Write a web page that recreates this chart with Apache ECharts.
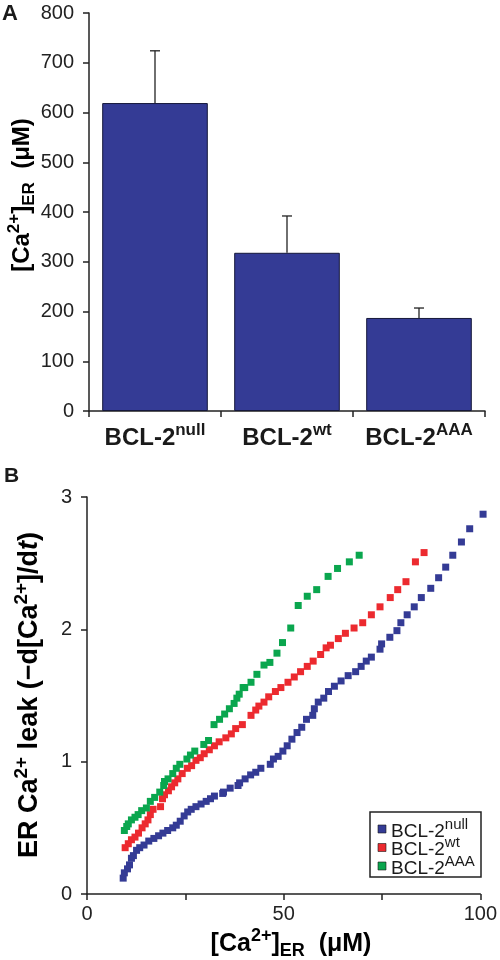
<!DOCTYPE html>
<html>
<head>
<meta charset="utf-8">
<script src="https://cdn.jsdelivr.net/npm/echarts@6/dist/echarts.min.js"></script>
<style>
html,body{margin:0;padding:0;background:#fff;}
#chart{width:500px;height:960px;}
</style>
</head>
<body>
<div id="chart"></div>
<script>
// ---- Panel A data ----
const categories = ['null', 'wt', 'AAA'];
const barValues = [619, 318, 187];
const barErrors = [105, 74, 20];

// ---- Panel B data ([Ca2+]ER µM, leak) ----
const bcl2Null = [
  [9.2,0.12],[9.5,0.16],[10.3,0.19],[10.8,0.22],[11.3,0.27],[11.8,0.29],[12.6,0.33],[13.4,0.35],
  [14.5,0.37],[15.7,0.40],[17.0,0.42],[18.2,0.44],[19.3,0.46],[20.5,0.48],[21.8,0.50],[22.7,0.52],
  [23.7,0.55],[24.7,0.59],[25.6,0.62],[26.5,0.64],[27.7,0.66],[29.0,0.68],[30.3,0.70],[31.4,0.72],
  [32.4,0.74],[34.5,0.76],[34.7,0.77],[36.4,0.80],[38.4,0.82],[38.8,0.84],[40.2,0.87],[41.6,0.90],
  [42.9,0.92],[44.2,0.95],[46.6,0.98],[47.4,1.02],[48.6,1.04],[49.8,1.08],[50.9,1.12],[52.1,1.17],
  [53.4,1.22],[54.6,1.26],[55.8,1.32],[57.4,1.35],[57.8,1.40],[58.8,1.45],[60.2,1.48],[61.4,1.53],
  [62.9,1.57],[64.6,1.61],[66.4,1.65],[68.3,1.68],[69.7,1.72],[71.0,1.76],[72.3,1.79],[74.5,1.85],
  [74.9,1.89],[77.0,1.94],[78.8,1.99],[79.8,2.05],[81.4,2.11],[83.2,2.17],[85.0,2.24],[87.4,2.31],
  [89.4,2.39],[91.2,2.47],[93.0,2.56],[95.2,2.66],[97.3,2.76],[100.7,2.87]
];
const bcl2Wt = [
  [9.7,0.35],[10.5,0.38],[11.3,0.41],[12.2,0.43],[13.1,0.46],[14.0,0.50],[14.8,0.53],[15.5,0.56],
  [16.1,0.60],[16.8,0.64],[18.7,0.66],[19.2,0.72],[19.7,0.75],[20.7,0.78],[21.5,0.81],[22.3,0.84],
  [23.1,0.87],[24.2,0.91],[25.5,0.95],[26.6,0.97],[27.7,1.01],[28.8,1.03],[29.8,1.06],[31.1,1.09],
  [32.4,1.12],[33.6,1.15],[35.3,1.18],[36.7,1.21],[37.8,1.25],[39.5,1.28],[41.7,1.35],[42.9,1.39],
  [43.7,1.42],[45.0,1.45],[46.2,1.49],[47.9,1.53],[49.3,1.56],[51.1,1.60],[52.7,1.64],[54.3,1.68],
  [56.0,1.72],[57.5,1.76],[59.4,1.81],[60.8,1.86],[61.9,1.88],[63.9,1.93],[65.7,1.97],[67.9,2.01],
  [70.1,2.05],[72.3,2.11],[74.5,2.17],[77.1,2.24],[79.0,2.30],[81.1,2.36],[83.5,2.51],[85.7,2.58]
];
const bcl2AAA = [
  [9.5,0.48],[10.1,0.51],[10.5,0.53],[11.3,0.56],[12.2,0.58],[13.0,0.60],[13.9,0.63],[15.1,0.65],
  [16.1,0.70],[17.2,0.73],[18.5,0.77],[19.5,0.82],[19.7,0.85],[20.6,0.87],[21.8,0.91],[22.7,0.95],
  [23.6,0.98],[25.4,1.02],[26.3,1.05],[27.4,1.08],[29.7,1.13],[30.9,1.16],[32.3,1.28],[33.7,1.32],
  [35.0,1.36],[36.2,1.40],[37.4,1.44],[38.1,1.48],[38.7,1.51],[39.7,1.56],[40.1,1.56],[41.7,1.60],
  [43.2,1.66],[45.0,1.73],[46.5,1.75],[48.3,1.82],[49.7,1.90],[51.8,2.01],[53.7,2.18],[56.0,2.25],
  [58.4,2.30],[61.3,2.40],[63.7,2.46],[66.7,2.51],[69.2,2.56]
];
const seriesNames = ['null', 'wt', 'AAA'];

const FONT = '"Liberation Sans", Arial, Helvetica, sans-serif';
const BLUE = '#343b95';
const RED = '#ec2a2f';
const GREEN = '#0aa64e';
const seriesColors = [BLUE, RED, GREEN];
const AXIS = '#222';
const TXT = '#1a1a1a';

const catRich = {
  b: { fontFamily: FONT, fontWeight: 'bold', fontSize: 24, color: TXT, lineHeight: 28, verticalAlign: 'bottom' },
  sup: { fontFamily: FONT, fontWeight: 'bold', fontSize: 17, color: TXT, lineHeight: 17, verticalAlign: 'top' }
};
function titleRich(size) {
  const s = Math.round(size * 0.7);
  return {
    b: { fontFamily: FONT, fontWeight: 'bold', fontSize: size, color: TXT, lineHeight: size + 8, verticalAlign: 'middle' },
    sup: { fontFamily: FONT, fontWeight: 'bold', fontSize: s, color: TXT, lineHeight: s, verticalAlign: 'top' },
    sub: { fontFamily: FONT, fontWeight: 'bold', fontSize: s, color: TXT, lineHeight: s, verticalAlign: 'bottom' },
    it: { fontFamily: FONT, fontWeight: 'bold', fontStyle: 'italic', fontSize: size, color: TXT, lineHeight: size + 8, verticalAlign: 'middle' }
  };
}
const legRich = {
  b: { fontFamily: FONT, fontSize: 19, fill: TXT, lineHeight: 24, verticalAlign: 'bottom' },
  sup: { fontFamily: FONT, fontSize: 15, fill: TXT, lineHeight: 8, verticalAlign: 'top' }
};

// legend box built as graphic (so that superscripts render correctly)
const legX = 370, legY = 812, legW = 111, legH = 65, legRow = 18.5;
const legendChildren = [
  { type: 'rect', shape: { x: legX, y: legY, width: legW, height: legH }, style: { fill: '#fff', stroke: '#222', lineWidth: 1.5 }, z: 10 }
];
seriesNames.forEach((n, i) => {
  const cy = legY + 17 + legRow * i;
  legendChildren.push({ type: 'rect', shape: { x: legX + 8, y: cy - 4, width: 8, height: 8 }, style: { fill: seriesColors[i], stroke: '#1a1a1a', lineWidth: 0.6 }, z: 11 });
  legendChildren.push({ type: 'text', x: legX + 21, y: cy, z: 11, style: { text: '{b|BCL-2}{sup|' + n + '}', rich: legRich, align: 'left', verticalAlign: 'middle' } });
});

const chart = echarts.init(document.getElementById('chart'), null, { renderer: 'canvas' });

const option = {
  backgroundColor: '#fff',
  animation: false,
  grid: [
    { left: 89, right: 15, top: 13, height: 398 },
    { left: 87, right: 17, top: 497, height: 397 }
  ],
  xAxis: [
    {
      gridIndex: 0, type: 'category', data: categories,
      axisLine: { lineStyle: { color: AXIS, width: 1.5 } },
      axisTick: { show: true, length: 6, lineStyle: { color: AXIS, width: 1.5 } },
      axisLabel: {
        interval: 0, margin: 11,
        formatter: v => '{b|BCL-2}{sup|' + v + '}',
        rich: catRich
      }
    },
    {
      gridIndex: 1, type: 'value', min: 0, max: 100, interval: 25,
      splitLine: { show: false },
      axisLine: { lineStyle: { color: AXIS, width: 1.5 } },
      axisTick: { length: 6, lineStyle: { color: AXIS, width: 1.5 } },
      axisLabel: {
        margin: 10, fontFamily: FONT, fontSize: 20, color: '#222',
        formatter: v => (v % 50 === 0 ? String(v) : '')
      }
    }
  ],
  yAxis: [
    {
      gridIndex: 0, type: 'value', min: 0, max: 800, interval: 100,
      splitLine: { show: false },
      axisLine: { show: true, lineStyle: { color: AXIS, width: 1.5 } },
      axisTick: { show: true, length: 6, lineStyle: { color: AXIS, width: 1.5 } },
      axisLabel: { margin: 15, fontFamily: FONT, fontSize: 20, color: '#222' }
    },
    {
      gridIndex: 1, type: 'value', min: 0, max: 3, interval: 1,
      splitLine: { show: false },
      axisLine: { show: true, lineStyle: { color: AXIS, width: 1.5 } },
      axisTick: { show: true, length: 6, lineStyle: { color: AXIS, width: 1.5 } },
      axisLabel: { margin: 15, fontFamily: FONT, fontSize: 20, color: '#222' }
    }
  ],
  series: [
    {
      type: 'bar', xAxisIndex: 0, yAxisIndex: 0,
      data: barValues, barWidth: '80%',
      itemStyle: { color: BLUE, borderColor: '#15183a', borderWidth: 1 },
      z: 2
    },
    {
      type: 'custom', xAxisIndex: 0, yAxisIndex: 0,
      data: barValues.map((v, i) => [i, v, barErrors[i]]),
      renderItem: function (params, api) {
        const i = api.value(0), v = api.value(1), e = api.value(2);
        const p0 = api.coord([i, v]);
        const p1 = api.coord([i, v + e]);
        const hw = 5;
        return {
          type: 'group',
          children: [
            { type: 'line', shape: { x1: p0[0], y1: p0[1], x2: p1[0], y2: p1[1] }, style: { stroke: AXIS, lineWidth: 1.3 } },
            { type: 'line', shape: { x1: p1[0] - hw, y1: p1[1], x2: p1[0] + hw, y2: p1[1] }, style: { stroke: AXIS, lineWidth: 1.3 } }
          ]
        };
      },
      z: 3
    },
    {
      name: seriesNames[0], type: 'scatter', xAxisIndex: 1, yAxisIndex: 1, clip: false,
      data: bcl2Null, symbol: 'rect', symbolSize: 7,
      itemStyle: { color: BLUE, opacity: 1 }
    },
    {
      name: seriesNames[1], type: 'scatter', xAxisIndex: 1, yAxisIndex: 1, clip: false,
      data: bcl2Wt, symbol: 'rect', symbolSize: 7,
      itemStyle: { color: RED, opacity: 1 }
    },
    {
      name: seriesNames[2], type: 'scatter', xAxisIndex: 1, yAxisIndex: 1, clip: false,
      data: bcl2AAA, symbol: 'rect', symbolSize: 7,
      itemStyle: { color: GREEN, opacity: 1 }
    }
  ],
  graphic: [
    { type: 'text', left: 2, top: 3, style: { text: 'A', font: 'bold 22px ' + FONT, fill: TXT } },
    { type: 'text', left: 4, top: 466, style: { text: 'B', font: 'bold 21px ' + FONT, fill: TXT } },
    {
      type: 'text', x: 22, y: 195, rotation: Math.PI / 2,
      style: {
        text: '{b|[Ca}{sup|2+}{b|]}{sub|ER}{b|  (μM)}',
        rich: titleRich(24), align: 'center', verticalAlign: 'middle'
      }
    },
    {
      type: 'text', x: 30, y: 695, rotation: Math.PI / 2,
      style: {
        text: '{b|ER Ca}{sup|2+}{b| leak (−d[Ca}{sup|2+}{b|]/d}{it|t}{b|)}',
        rich: titleRich(27), align: 'center', verticalAlign: 'middle'
      }
    },
    {
      type: 'text', x: 291, y: 944,
      style: {
        text: '{b|[Ca}{sup|2+}{b|]}{sub|ER}{b|  (μM)}',
        rich: titleRich(25), align: 'center', verticalAlign: 'middle'
      }
    },
    { type: 'group', children: legendChildren }
  ]
};
chart.setOption(option);
</script>
</body>
</html>
